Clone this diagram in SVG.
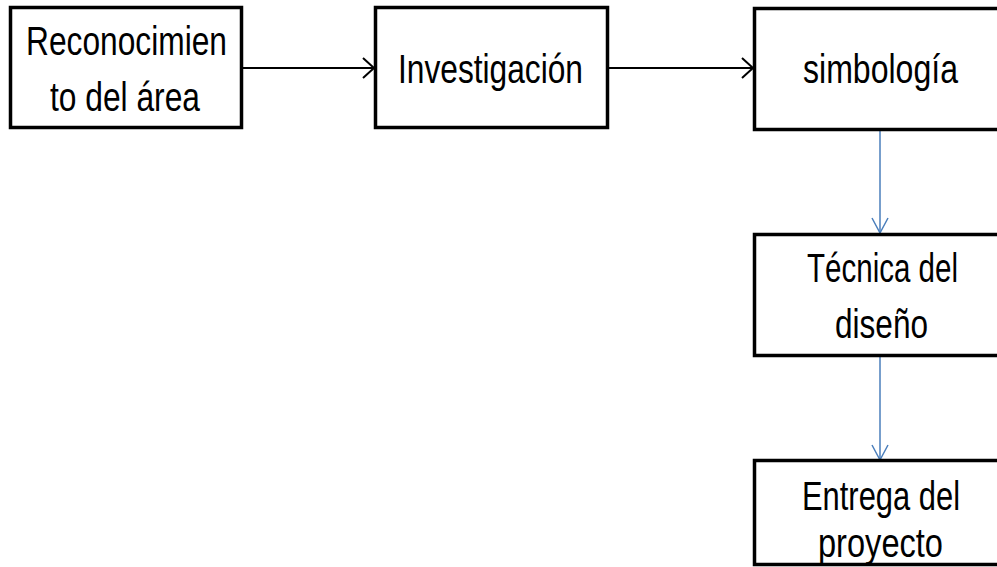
<svg xmlns="http://www.w3.org/2000/svg" width="997" height="567" viewBox="0 0 997 567">
<style>
.box{fill:#fff;stroke:#000;stroke-width:3.5}
.open{fill:#fff;stroke:#000;stroke-width:3.5;stroke-linejoin:miter}
.t{font-family:"Liberation Sans",Arial,sans-serif;font-size:41px;fill:#000;text-anchor:middle}
.k{stroke:#000;stroke-width:2;fill:none}
.b{stroke:#4a7ebb;stroke-width:1.5;fill:none}
</style>
<defs>
<marker id="ak" markerUnits="userSpaceOnUse" markerWidth="16" markerHeight="24" refX="13" refY="11" orient="auto">
<path d="M1,1 L12,11 L1,21" fill="none" stroke="#000" stroke-width="2"/>
</marker>
<marker id="ab" markerUnits="userSpaceOnUse" markerWidth="20" markerHeight="20" refX="16" refY="9" orient="auto">
<path d="M1,1 L16,9 L1,17" fill="none" stroke="#4a7ebb" stroke-width="1.5"/>
</marker>
</defs>
<rect width="997" height="567" fill="#fff"/>
<g id="connectors">
<line class="k" x1="242" y1="68" x2="375" y2="68" marker-end="url(#ak)"/>
<line class="k" x1="608" y1="68" x2="754" y2="68" marker-end="url(#ak)"/>
<line class="b" x1="880" y1="131" x2="880" y2="233" marker-end="url(#ab)"/>
<line class="b" x1="880" y1="357" x2="880" y2="460" marker-end="url(#ab)"/>
</g>
<g id="n1">
<rect class="box" x="10.5" y="7.5" width="231" height="120"/>
<text class="t" x="126.5" y="55" textLength="201" lengthAdjust="spacingAndGlyphs">Reconocimien</text>
<text class="t" x="125" y="111" textLength="150" lengthAdjust="spacingAndGlyphs">to del área</text>
</g>
<g id="n2">
<rect class="box" x="375.5" y="7.5" width="232" height="120"/>
<text class="t" x="490.5" y="83" textLength="185" lengthAdjust="spacingAndGlyphs">Investigación</text>
</g>
<g id="n3">
<path class="open" d="M997,8.5 H754.5 V129.5 H997"/>
<text class="t" x="880.5" y="83" textLength="155" lengthAdjust="spacingAndGlyphs">simbología</text>
</g>
<g id="n4">
<path class="open" d="M997,234.5 H754.5 V355.5 H997"/>
<text class="t" x="882.5" y="282" textLength="151" lengthAdjust="spacingAndGlyphs">Técnica del</text>
<text class="t" x="881.5" y="338" textLength="93" lengthAdjust="spacingAndGlyphs">diseño</text>
</g>
<g id="n5">
<path class="open" d="M997,460.5 H754.5 V564.5 H997"/>
<text class="t" x="881" y="510" textLength="158" lengthAdjust="spacingAndGlyphs">Entrega del</text>
<text class="t" x="880.5" y="557" textLength="125" lengthAdjust="spacingAndGlyphs">proyecto</text>
</g>
</svg>
